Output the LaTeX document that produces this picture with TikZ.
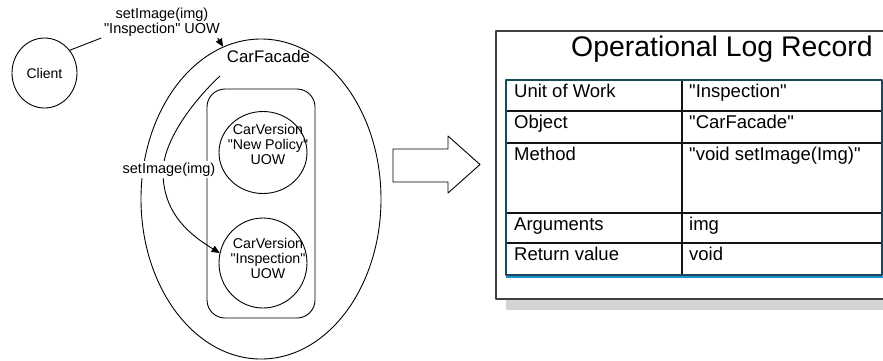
\documentclass[tikz,border=0pt]{standalone}
\usepackage{fontspec}
\setmainfont{Liberation Sans}[Ligatures=TeXOff]
\usetikzlibrary{arrows.meta,shapes.geometric}
\newcommand\fsz[2]{\fontsize{#1}{#2}\selectfont}
\definecolor{framegray}{HTML}{404040}
\definecolor{shadowgray}{HTML}{D4D4D4}
\definecolor{tabedge}{HTML}{17495C}
\definecolor{tabblue}{HTML}{1E90D0}
\definecolor{gridline}{HTML}{141414}
\begin{document}
\begin{tikzpicture}[x=1pt,y=-1pt,line join=round,
  obj/.style={draw,ellipse,line width=0.9pt,inner sep=0pt},
  lbl/.style={font=\fsz{14.5}{15},inner sep=1.5pt,align=center},
  vtext/.style={font=\fsz{14.2}{15},inner sep=0pt,align=center},
  cell/.style={font=\fsz{18.5}{20},anchor=base west,inner sep=0pt},
  flow/.style={line width=0.9pt},
  tip/.style={-{Triangle[length=8pt,width=7pt]}}]
\useasboundingbox (0,0) rectangle (883,360);

% the facade object holding its versions
\node[obj,minimum width=240pt,minimum height=320pt] (facade) at (261,199) {};
\node[font=\fsz{16.8}{18},anchor=base,inner sep=0pt] (facadename) at (268.5,62) {CarFacade};
\node[draw,rounded corners=18pt,line width=0.9pt,minimum width=108pt,minimum height=229pt] (stack) at (261,203.5) {};
\node[obj,minimum width=88pt,minimum height=82pt] (vpol) at (263,152.5) {};
\node[obj,minimum width=88pt,minimum height=90pt] (vins) at (263,263) {};
\node[vtext] (vpoltext) at (268,144) {CarVersion\\"New Policy"\\UOW};
\node[vtext] (vinstext) at (268,258) {CarVersion\\"Inspection"\\UOW};

% client and its call
\node[obj,minimum width=65pt,minimum height=70pt,font=\fsz{14}{15}] (client) at (44.5,73) {Client};
\node[lbl] (toplbl) at (162,22) {setImage(img)\\"Inspection" UOW};
\draw[flow] (client.42) -- ([xshift=-1pt]toplbl.south west);
\draw[flow,tip] ([xshift=-4pt]toplbl.south east) -- (facade.104);

% forwarded call to the current version
\coordinate (callstart) at (220,76);
\draw[flow,tip] (callstart) .. controls (195,99) and (163,140) .. (163,172)
  .. controls (163,215) and (192,236) .. (vins.167);
\node[lbl,fill=white,anchor=base] (midlbl) at (169,173) {setImage(img)};

% block arrow
\draw[line width=0.9pt] (393,149) -- (448,149) -- (448,136) -- (480,164.5)
  -- (448,193) -- (448,182) -- (393,182) -- cycle;

% log record sheet
\fill[shadowgray] (506,299) rectangle (900,310);
\draw[framegray,line width=1.3pt,fill=white] (496,31) rectangle (900,299);
\node[font=\fsz{28.4}{30},anchor=base west,inner sep=0pt] (title) at (571,56) {Operational Log Record};

% table
\draw[tabblue,line width=1.6pt] (506,277) -- (883.5,277) -- (883.5,80);
\draw[gridline,line width=1.5pt] (682,80) -- (682,275)
  (506,111) -- (882,111) (506,143) -- (882,143)
  (506,213) -- (882,213) (506,243) -- (882,243);
\draw[tabedge,line width=2pt] (506,80) rectangle (882,275);

\node[cell] (k1) at (514,97) {Unit of Work};
\node[cell] (v1) at (689,97) {"Inspection"};
\node[cell] (k2) at (514,128) {Object};
\node[cell] (v2) at (689,128) {"CarFacade"};
\node[cell] (k3) at (514,160) {Method};
\node[cell] (v3) at (689,160) {"void setImage(Img)"};
\node[cell] (k4) at (514,230) {Arguments};
\node[cell] (v4) at (689,230) {img};
\node[cell] (k5) at (514,260.5) {Return value};
\node[cell] (v5) at (689,260.5) {void};
\end{tikzpicture}
\end{document}
